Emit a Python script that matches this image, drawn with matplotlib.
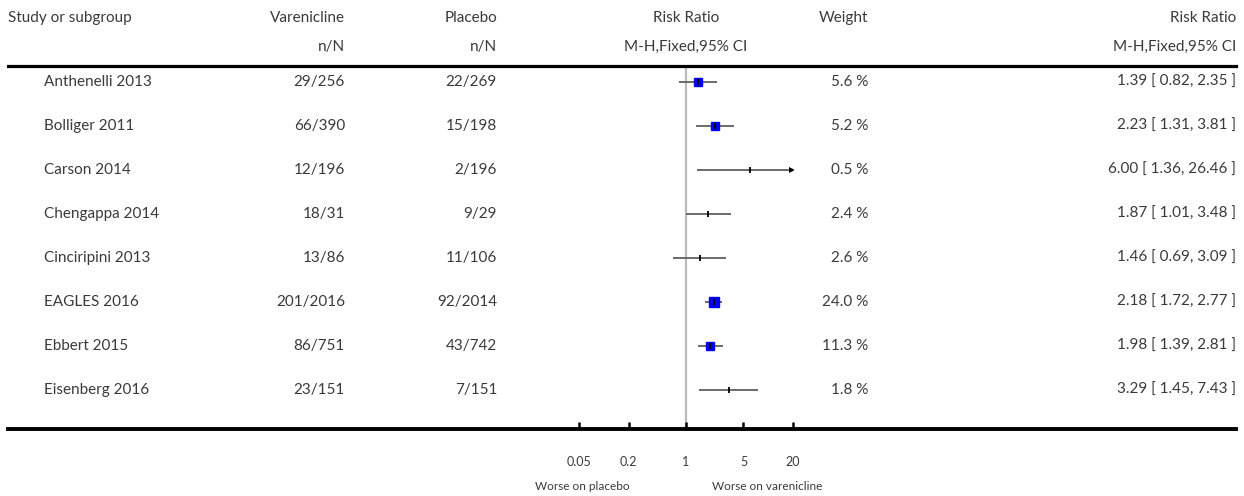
import numpy as np
import matplotlib
matplotlib.use("Agg")
import matplotlib.pyplot as plt
from matplotlib.lines import Line2D
from matplotlib import transforms

plt.rcParams['font.family'] = ['Lato', 'DejaVu Sans']

studies = ["Anthenelli 2013", "Bolliger 2011", "Carson 2014", "Chengappa 2014",
           "Cinciripini 2013", "EAGLES 2016", "Ebbert 2015", "Eisenberg 2016"]
varenicline = ["29/256", "66/390", "12/196", "18/31", "13/86", "201/2016", "86/751", "23/151"]
placebo = ["22/269", "15/198", "2/196", "9/29", "11/106", "92/2014", "43/742", "7/151"]
rr = [1.39, 2.23, 6.00, 1.87, 1.46, 2.18, 1.98, 3.29]
ci_lo = [0.82, 1.31, 1.36, 1.01, 0.69, 1.72, 1.39, 1.45]
ci_hi = [2.35, 3.81, 26.46, 3.48, 3.09, 2.77, 2.81, 7.43]
weight = [5.6, 5.2, 0.5, 2.4, 2.6, 24.0, 11.3, 1.8]
ticks = [0.05, 0.2, 1, 5, 20]
tick_labels = ["0.05", "0.2", "1", "5", "20"]

W, H = 1244, 496
fig = plt.figure(figsize=(W / 100, H / 100), dpi=100)

def fx(x):
    return x / W

def fy(y):
    return 1 - y / H

# forest plot axes (pixel box 579..793 x 66..428)
ax = fig.add_axes([fx(579), fy(428), fx(793 - 579), (428 - 66) / H])
ax.set_xscale("log")
ax.set_xlim(ticks[0], ticks[-1])
ax.set_ylim(7.864, -0.364)
for s in ax.spines.values():
    s.set_visible(False)
ax.set_yticks([])
ax.set_xticks(ticks)
ax.set_xticklabels(tick_labels)
ax.xaxis.set_minor_locator(matplotlib.ticker.NullLocator())
ax.tick_params(axis="x", direction="in", length=4, width=1.8, pad=20,
               labelsize=9, labelcolor="#3a3a3a", color="black")
ax.patch.set_alpha(0)

ax.axvline(1, color="#bbbbbb", lw=1.6, zorder=1)

text_c = "#3a3a3a"
xmax = ticks[-1]
for i in range(len(studies)):
    hi = min(ci_hi[i], xmax)
    ax.plot([ci_lo[i], hi], [i, i], color="#6a6a6a", lw=1.4, zorder=2, solid_capstyle="butt")
    if ci_hi[i] > xmax:
        ax.plot([xmax * 0.97], [i], marker=">", color="black", ms=4, mew=0, zorder=3)
    if weight[i] >= 5:
        size = 4.0 + np.sqrt(weight[i]) * 0.6
        ax.plot([rr[i]], [i], marker="s", color="#0000ee", ms=size, mec="#0000ee", zorder=3)
    ax.plot([rr[i]], [i], marker="|", color="black", ms=5, mew=1.3, zorder=4)

# horizontal rules across the table
fig.add_artist(Line2D([fx(8), fx(1236)], [fy(65.5), fy(65.5)], color="black", lw=2.3))
fig.add_artist(Line2D([fx(8), fx(1236)], [fy(429), fy(429)], color="black", lw=2.8))

# headers
fs = 11
fig.text(fx(8), fy(18), "Study or subgroup", fontsize=fs, color=text_c, va="center", ha="left")
fig.text(fx(345), fy(18), "Varenicline", fontsize=fs, color=text_c, va="center", ha="right")
fig.text(fx(345), fy(47), "n/N", fontsize=fs, color=text_c, va="center", ha="right")
fig.text(fx(497), fy(18), "Placebo", fontsize=fs, color=text_c, va="center", ha="right")
fig.text(fx(497), fy(47), "n/N", fontsize=fs, color=text_c, va="center", ha="right")
fig.text(fx(686), fy(18), "Risk Ratio", fontsize=fs, color=text_c, va="center", ha="center")
fig.text(fx(686), fy(47), "M-H,Fixed,95% CI", fontsize=fs, color=text_c, va="center", ha="center")
fig.text(fx(868), fy(18), "Weight", fontsize=fs, color=text_c, va="center", ha="right")
fig.text(fx(1236), fy(18), "Risk Ratio", fontsize=fs, color=text_c, va="center", ha="right")
fig.text(fx(1236), fy(47), "M-H,Fixed,95% CI", fontsize=fs, color=text_c, va="center", ha="right")

# rows: x in figure fraction, y in forest rows
tr = transforms.blended_transform_factory(fig.transFigure, ax.transData)
for i in range(len(studies)):
    fig.text(fx(44), i, studies[i], transform=tr, fontsize=fs, color=text_c, va="center", ha="left")
    fig.text(fx(345), i, varenicline[i], transform=tr, fontsize=fs, color=text_c, va="center", ha="right")
    fig.text(fx(497), i, placebo[i], transform=tr, fontsize=fs, color=text_c, va="center", ha="right")
    fig.text(fx(868), i, f"{weight[i]:.1f} %", transform=tr, fontsize=fs, color=text_c, va="center", ha="right")
    fig.text(fx(1236), i, f"{rr[i]:.2f} [ {ci_lo[i]:.2f}, {ci_hi[i]:.2f} ]", transform=tr,
             fontsize=fs, color=text_c, va="center", ha="right")

fig.text(fx(630), fy(487), "Worse on placebo", fontsize=8.5, color=text_c, va="center", ha="right")
fig.text(fx(712), fy(487), "Worse on varenicline", fontsize=8.5, color=text_c, va="center", ha="left")

fig.savefig("out.png", dpi=100)
